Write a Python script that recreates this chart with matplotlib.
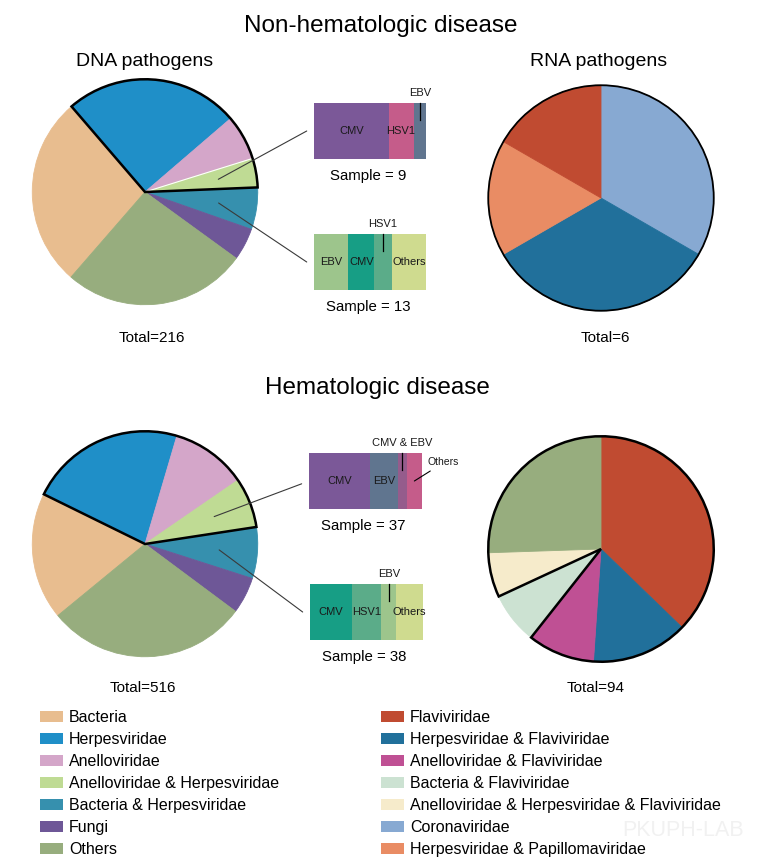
import matplotlib
matplotlib.use('Agg')
import matplotlib.pyplot as plt
from matplotlib.patches import Wedge, Circle, Patch, ConnectionPatch
import numpy as np

plt.rcParams['font.family'] = ['Liberation Sans', 'DejaVu Sans']

W, H = 757, 867

# ---------------- data ----------------
dna_categories = ['Bacteria', 'Herpesviridae', 'Anelloviridae',
                  'Anelloviridae & Herpesviridae', 'Bacteria & Herpesviridae',
                  'Fungi', 'Others']
dna_colors = ['#E8BD8F', '#1F8FC8', '#D4A6C9', '#BFDB94', '#3690AE',
              '#6E5797', '#97AD7E']
dna_nonhem = [59, 54, 14, 9, 13, 10, 57]
dna_hem = [94, 115, 56, 37, 38, 27, 149]

rna_categories = ['Flaviviridae', 'Herpesviridae & Flaviviridae',
                  'Anelloviridae & Flaviviridae', 'Bacteria & Flaviviridae',
                  'Anelloviridae & Herpesviridae & Flaviviridae',
                  'Coronaviridae', 'Herpesviridae & Papillomaviridae']
rna_colors = ['#C04B31', '#21709B', '#BF5094', '#CCE2D2', '#F6EBCB',
              '#87A9D2', '#E98C64']
others_color = '#97AD7E'

rna_nonhem_labels = ['Coronaviridae', 'Herpesviridae & Flaviviridae',
                     'Herpesviridae & Papillomaviridae', 'Flaviviridae']
rna_nonhem = [2, 2, 1, 1]
rna_hem_labels = ['Flaviviridae', 'Herpesviridae & Flaviviridae',
                  'Anelloviridae & Flaviviridae', 'Bacteria & Flaviviridae',
                  'Anelloviridae & Herpesviridae & Flaviviridae', 'Others']
rna_hem = [35, 13, 9, 7, 6, 24]

virus_colors = {'CMV': '#7B5898', 'HSV1': '#C55C8A', 'EBV': '#60758F',
                'CMV & EBV': '#955C8C', 'Others': '#C55C8A'}
virus_colors2 = {'EBV': '#9DC58C', 'CMV': '#179E85', 'HSV1': '#5BAC89',
                 'Others': '#CFDB8F'}

bar1_labels = ['CMV', 'HSV1', 'EBV']
bar1_values = [6, 2, 1]
bar2_labels = ['EBV', 'CMV', 'HSV1', 'Others']
bar2_values = [4, 3, 2, 4]
bar3_labels = ['CMV', 'EBV', 'CMV & EBV', 'Others']
bar3_values = [20, 9, 3, 5]
bar4_labels = ['CMV', 'HSV1', 'EBV', 'Others']
bar4_values = [14, 10, 5, 9]

# ---------------- figure ----------------
fig = plt.figure(figsize=(W / 100, H / 100), dpi=100)
fig.patch.set_facecolor('white')


def px_axes(x0, y0, w, h):
    return fig.add_axes([x0 / W, 1 - (y0 + h) / H, w / W, h / H])


def ftext(x, y, s, **kw):
    return fig.text(x / W, 1 - y / H, s, **kw)


def draw_pie(cx, cy, r, values, colors, start):
    ax = px_axes(cx - r, cy - r, 2 * r, 2 * r)
    wedges, _ = ax.pie(values, colors=colors, startangle=start,
                       counterclock=False, radius=1,
                       wedgeprops=dict(linewidth=0.6))
    for w in wedges:
        w.set_edgecolor(w.get_facecolor())
    ax.set_xlim(-1.02, 1.02)
    ax.set_ylim(-1.02, 1.02)
    ax.axis('off')
    return ax, wedges


R = 115

# top-left DNA pie
ax_tl, w_tl = draw_pie(145, 192, R, dna_nonhem, dna_colors, 229)
ax_tl.add_patch(Wedge((0, 0), 1, w_tl[3].theta1, w_tl[1].theta2, fill=False,
                      edgecolor='black', linewidth=1.8, zorder=5))
ax_tl.plot([0, np.cos(np.radians(w_tl[2].theta1))],
           [0, np.sin(np.radians(w_tl[2].theta1))], color='white', lw=0.8,
           zorder=4)

# bottom-left DNA pie
ax_bl, w_bl = draw_pie(145, 544, R, dna_hem, dna_colors, 219.4)
ax_bl.add_patch(Wedge((0, 0), 1, w_bl[3].theta1, w_bl[1].theta2, fill=False,
                      edgecolor='black', linewidth=1.8, zorder=5))

# top-right RNA pie
rna_map = dict(zip(rna_categories, rna_colors))
rna_map['Others'] = others_color
ax_tr, w_tr = draw_pie(601, 198, R, rna_nonhem,
                       [rna_map[k] for k in rna_nonhem_labels], 90)
ax_tr.add_patch(Circle((0, 0), 1, fill=False, edgecolor='black',
                       linewidth=1.3, zorder=5))

# bottom-right RNA pie
ax_br, w_br = draw_pie(601, 549, R, rna_hem,
                       [rna_map[k] for k in rna_hem_labels], 90)
ex = w_br[3]
ax_br.add_patch(Wedge((0, 0), 1, ex.theta2, ex.theta1 + 360, fill=False,
                      edgecolor='black', linewidth=1.8, zorder=5))

# ---------------- stacked bars ----------------
LFS = 8


def draw_bar(x0, y0, w, h, labels, values, cmap, above=(), side=()):
    ax = px_axes(x0, y0, w, h)
    left = 0
    mids = {}
    for lab, v in zip(labels, values):
        ax.barh(0, v, left=left, height=1, color=cmap[lab], linewidth=0)
        mids[lab] = left + v / 2
        left += v
    ax.set_xlim(0, sum(values))
    ax.set_ylim(-0.5, 0.5)
    ax.axis('off')
    for lab in labels:
        if lab in above or lab in side:
            continue
        ax.text(mids[lab], 0, lab, ha='center', va='center', fontsize=LFS,
                color='#1a1a1a')
    for lab in above:
        m = mids[lab]
        ax.plot([m, m], [0.5, 0.2], color='black', lw=0.9, clip_on=False)
        ax.text(m, 0.62, lab, ha='center', va='baseline', fontsize=LFS,
                color='#1a1a1a', clip_on=False)
    for lab in side:
        m = mids[lab]
        ax.annotate(lab, xy=(m, 0.0), xycoords='data',
                    xytext=(1.05, 0.79), textcoords='axes fraction',
                    ha='left', va='baseline', fontsize=LFS - 0.5,
                    color='#1a1a1a',
                    arrowprops=dict(arrowstyle='-', color='black', lw=0.8,
                                    shrinkA=2, shrinkB=0,
                                    relpos=(0.3, 0.0)))
    ax.text(0.48, -0.18, f'Sample = {sum(values)}', transform=ax.transAxes,
            ha='center', va='top', fontsize=10.8)
    return ax


ax_b1 = draw_bar(314, 103, 112, 56, bar1_labels, bar1_values, virus_colors,
                 above=('EBV',))
ax_b2 = draw_bar(314, 234, 112, 56, bar2_labels, bar2_values, virus_colors2,
                 above=('HSV1',))
ax_b3 = draw_bar(309, 453, 113, 56, bar3_labels, bar3_values, virus_colors,
                 above=('CMV & EBV',), side=('Others',))
ax_b4 = draw_bar(310, 584, 113, 56, bar4_labels, bar4_values, virus_colors2,
                 above=('EBV',))


def connect(ax_pie, wedge, ax_bar, ybar=0.5):
    mid = np.radians((wedge.theta1 + wedge.theta2) / 2)
    p = (0.66 * np.cos(mid), 0.66 * np.sin(mid))
    cp = ConnectionPatch(xyA=p, coordsA=ax_pie.transData,
                         xyB=(-0.065, ybar), coordsB=ax_bar.transAxes,
                         color='#3a3a3a', lw=0.8, zorder=10)
    fig.add_artist(cp)


connect(ax_tl, w_tl[3], ax_b1)
connect(ax_tl, w_tl[4], ax_b2)
connect(ax_bl, w_bl[3], ax_b3, 0.45)
connect(ax_bl, w_bl[4], ax_b4)

# ---------------- titles ----------------
ftext(381, 31.7, 'Non-hematologic disease', ha='center', va='baseline',
      fontsize=17.5)
ftext(377.5, 394.3, 'Hematologic disease', ha='center', va='baseline',
      fontsize=17.5)
ftext(145, 66, 'DNA pathogens', ha='center', va='baseline', fontsize=14)
ftext(599, 66, 'RNA pathogens', ha='center', va='baseline', fontsize=14)
ftext(152, 341.5, f'Total={sum(dna_nonhem)}', ha='center', va='baseline',
      fontsize=11)
ftext(605, 341.5, f'Total={sum(rna_nonhem)}', ha='center', va='baseline',
      fontsize=11)
ftext(143, 692, f'Total={sum(dna_hem)}', ha='center', va='baseline',
      fontsize=11)
ftext(596, 692.5, f'Total={sum(rna_hem)}', ha='center', va='baseline',
      fontsize=11)

# watermark (kept clear of the legend labels)
ftext(683, 830, 'PKUPH-LAB', ha='center', va='center', fontsize=15.5,
      color='#f1f1f1', zorder=0)

# ---------------- legends ----------------
h_dna = [Patch(facecolor=c, edgecolor='none', label=l)
         for l, c in zip(dna_categories, dna_colors)]
h_rna = [Patch(facecolor=c, edgecolor='none', label=l)
         for l, c in zip(rna_categories, rna_colors)]
leg_kw = dict(frameon=False, fontsize=11.5, handlelength=1.45,
              handleheight=0.72, handletextpad=0.38, labelspacing=0.44,
              borderpad=0, borderaxespad=0, loc='upper left')
fig.legend(handles=h_dna, bbox_to_anchor=(40 / W, 1 - 710 / H), **leg_kw)
fig.legend(handles=h_rna, bbox_to_anchor=(381 / W, 1 - 710 / H), **leg_kw)

fig.savefig('out.png', dpi=100, facecolor='white')
